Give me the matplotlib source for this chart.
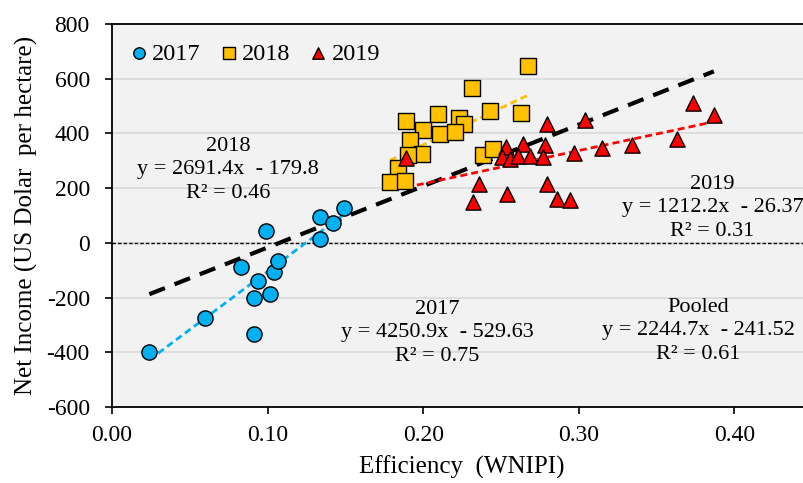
import numpy as np
from matplotlib import pyplot as plt

plt.rcParams['font.family'] = ['Liberation Serif', 'DejaVu Serif']
plt.rcParams['axes.unicode_minus'] = False

# 2017
x17 = [0.024, 0.060, 0.083, 0.099, 0.094, 0.0915, 0.091, 0.1015, 0.104, 0.107, 0.134, 0.134, 0.142, 0.149]
y17 = [-398, -275, -87, 45, -138, -200, -333, -188, -108, -66, 94, 14, 71, 128]
# 2018
x18 = [0.2676, 0.2312, 0.189, 0.2098, 0.2228, 0.2264, 0.2431, 0.2629, 0.2001, 0.2108,
       0.2208, 0.1915, 0.1992, 0.190, 0.1838, 0.1787, 0.1883, 0.2387, 0.2451]
y18 = [645, 566, 444, 472, 457, 434, 482, 474, 414, 397,
       407, 376, 324, 322, 273, 224, 227, 321, 343]
# 2019
x19 = [0.189, 0.2532, 0.2639, 0.2783, 0.2798, 0.2504, 0.2558, 0.2607, 0.2686, 0.2772, 0.2359,
       0.2322, 0.2536, 0.2794, 0.2862, 0.3736, 0.3869, 0.3629, 0.334, 0.3153, 0.2971, 0.304, 0.2943]
y19 = [310, 352, 362, 357, 434, 314, 306, 316, 318, 313, 215,
       149, 178, 216, 160, 513, 468, 379, 358, 346, 328, 450, 155]

# regression coefficients shown on the chart
fits = {
    '2017': (4250.9, -529.63, '0.75'),
    '2018': (2691.4, -179.8, '0.46'),
    '2019': (1212.2, -26.37, '0.31'),
    'Pooled': (2244.7, -241.52, '0.61'),
}

fig = plt.figure(figsize=(8.04, 4.83), dpi=100)
ax = fig.add_axes([0.1393, 0.1573, 0.8707, 0.793])
ax.set_facecolor('#F2F2F2')

ax.set_xlim(0, 0.45)
ax.set_ylim(-600, 800)
ax.set_yticks(range(-600, 801, 200))
ax.set_xticks([0.0, 0.1, 0.2, 0.3, 0.4])
ax.set_xticklabels(['0.00', '0.10', '0.20', '0.30', '0.40'])
ax.grid(axis='y', color='#D9D9D9', linewidth=1.2)
ax.set_axisbelow(True)
ax.tick_params(labelsize=17, length=5, width=1.2, direction='out', pad=8)
ax.tick_params(axis='y', pad=11)
for s in ['left', 'bottom', 'top']:
    ax.spines[s].set_linewidth(1.3)
ax.spines['right'].set_visible(False)

ax.axhline(0, color='black', linestyle=(0, (2.5, 1.5)), linewidth=1)

# trend lines
def trend(xs, key, color, lw, ls):
    m, b, _ = fits[key]
    xx = np.array([min(xs), max(xs)])
    ax.plot(xx, m * xx + b, color=color, linewidth=lw, linestyle=ls, zorder=2)

allx = x17 + x18 + x19
trend(allx, 'Pooled', 'black', 3, (0, (4, 2.5)))
trend(x17, '2017', '#00B0F0', 2, (0, (2.5, 1.5)))
trend(x18, '2018', '#FFC000', 2, (0, (2.5, 1.5)))
trend(x19, '2019', '#FF0000', 2, (0, (2.5, 1.5)))

ax.scatter(x17, y17, s=120, marker='o', color='#00B0F0', edgecolor='black', linewidth=1, zorder=3, label='2017')
ax.scatter(x18, y18, s=120, marker='s', color='#FFC000', edgecolor='black', linewidth=1, zorder=3, label='2018')
ax.scatter(x19, y19, s=120, marker='^', color='#FF0000', edgecolor='black', linewidth=1, zorder=4, label='2019')

leg = ax.legend(loc='upper left', ncol=3, frameon=False, fontsize=17.5, markerscale=0.75,
                handletextpad=0.0, columnspacing=0.6, borderaxespad=0.5, handlelength=1.1,
                bbox_to_anchor=(-0.012, 1.008))

def label(x, y, key):
    m, b, r2 = fits[key]
    sign = '-' if b < 0 else '+'
    txt = f'{key}\ny = {m}x  {sign} {abs(b)}\nR² = {r2}'
    ax.text(x, y, txt, ha='center', va='center', fontsize=16, linespacing=1.3, zorder=1)

label(0.0746, 267, '2018')
label(0.386, 128, '2019')
label(0.377, -322, 'Pooled')
label(0.209, -329, '2017')

ax.set_ylabel('Net Income (US Dolar  per hectare)', fontsize=18, labelpad=6)
ax.set_xlabel('Efficiency  (WNIPI)', fontsize=18, labelpad=7)

fig.savefig('out.png', dpi=100)
